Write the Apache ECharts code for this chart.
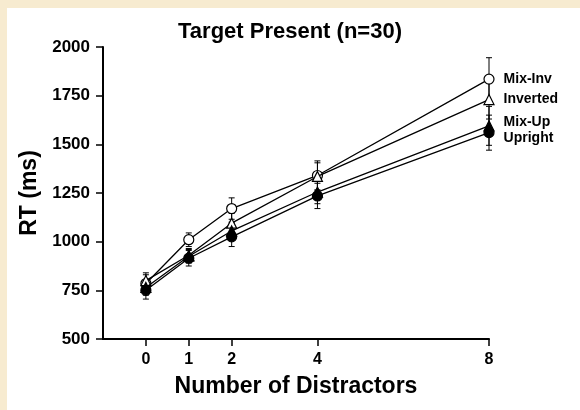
<!DOCTYPE html>
<html>
<head>
<meta charset="utf-8">
<script src="https://cdn.jsdelivr.net/npm/echarts@6/dist/echarts.min.js"></script>
<style>
html,body{margin:0;padding:0;background:#f7ebd0;}
#c{width:580px;height:410px;}
</style>
</head>
<body>
<div id="c"></div>
<script>
const xValues = [0, 1, 2, 4, 8];
const yTicks = [500, 750, 1000, 1250, 1500, 1750, 2000];
const seriesNames = ['Mix-Inv', 'Inverted', 'Mix-Up', 'Upright'];
const mixInv = [785, 1010, 1170, 1340, 1835];
const inverted = [800, 930, 1095, 1335, 1730];
const mixUp = [765, 925, 1055, 1255, 1595];
const upright = [750, 915, 1025, 1235, 1560];
const mixInvErr = [45, 35, 55, 75, 110];
const invertedErr = [40, 35, 50, 70, 100];
const mixUpErr = [40, 35, 45, 60, 100];
const uprightErr = [45, 40, 50, 65, 90];

const FONT = '"Liberation Sans", Arial, Helvetica, sans-serif';
const chart = echarts.init(document.getElementById('c'), null, {renderer: 'canvas'});

const defs = [
  {name: seriesNames[0], vals: mixInv, err: mixInvErr, symbol: 'circle', fill: '#ffffff', size: 10, off: [0, 0]},
  {name: seriesNames[1], vals: inverted, err: invertedErr, symbol: 'triangle', fill: '#ffffff', size: 10, off: [0, 0]},
  {name: seriesNames[2], vals: mixUp, err: mixUpErr, symbol: 'triangle', fill: '#000000', size: 10, off: [0, -4]},
  {name: seriesNames[3], vals: upright, err: uprightErr, symbol: 'circle', fill: '#000000', size: 10, off: [0, 5]}
];

const series = [];
defs.forEach(function (d) {
  series.push({
    type: 'custom',
    name: d.name + ' err',
    silent: true,
    z: 1,
    data: xValues.map(function (x, i) { return [x, d.vals[i] - d.err[i], d.vals[i] + d.err[i]]; }),
    renderItem: function (params, api) {
      const x = api.value(0);
      const p1 = api.coord([x, api.value(1)]);
      const p2 = api.coord([x, api.value(2)]);
      const w = 3;
      const st = {stroke: '#000', lineWidth: 1};
      return {type: 'group', children: [
        {type: 'line', shape: {x1: p1[0], y1: p1[1], x2: p2[0], y2: p2[1]}, style: st},
        {type: 'line', shape: {x1: p1[0] - w, y1: p1[1], x2: p1[0] + w, y2: p1[1]}, style: st},
        {type: 'line', shape: {x1: p2[0] - w, y1: p2[1], x2: p2[0] + w, y2: p2[1]}, style: st}
      ]};
    }
  });
});
defs.forEach(function (d, k) {
  const data = xValues.map(function (x, i) {
    const item = {value: [x, d.vals[i]]};
    if (i === xValues.length - 1) {
      item.label = {
        show: true, position: 'right', distance: 9, offset: d.off,
        formatter: d.name, color: '#000', fontFamily: FONT, fontWeight: 'bold', fontSize: 14
      };
    }
    return item;
  });
  series.push({
    type: 'line',
    name: d.name,
    data: data,
    z: 3 + k,
    symbol: d.symbol,
    symbolSize: d.size,
    showAllSymbol: true,
    lineStyle: {color: '#000', width: 1.3},
    itemStyle: {color: d.fill, borderColor: '#000', borderWidth: 1.2},
    label: {show: false},
    emphasis: {disabled: true},
    animation: false
  });
});

chart.setOption({
  animation: false,
  backgroundColor: '#f7ebd0',
  graphic: [{type: 'rect', z: -100, silent: true, shape: {x: 7, y: 8, width: 580, height: 410}, style: {fill: '#ffffff'}}],
  title: {
    text: 'Target Present (n=30)', left: 'center', top: 16,
    textStyle: {fontFamily: FONT, fontWeight: 'bold', fontSize: 22, color: '#000'}
  },
  grid: {left: 103, right: 91, top: 47, bottom: 71},
  xAxis: {
    type: 'value', min: -1, max: 8,
    name: 'Number of Distractors', nameLocation: 'middle', nameGap: 36,
    nameTextStyle: {fontFamily: FONT, fontWeight: 'bold', fontSize: 23, color: '#000'},
    axisLine: {show: true, onZero: false, lineStyle: {color: '#000', width: 2}},
    axisTick: {show: true, length: 7, lineStyle: {color: '#000', width: 1.5}, customValues: xValues},
    axisLabel: {customValues: xValues, color: '#000', fontFamily: FONT, fontWeight: 'bold', fontSize: 16, margin: 13},
    splitLine: {show: false}
  },
  yAxis: {
    type: 'value', min: 500, max: 2000, interval: 250,
    name: 'RT (ms)', nameLocation: 'middle', nameGap: 58,
    nameTextStyle: {fontFamily: FONT, fontWeight: 'bold', fontSize: 23, color: '#000'},
    axisLine: {show: true, onZero: false, lineStyle: {color: '#000', width: 2}},
    axisTick: {show: true, length: 7, lineStyle: {color: '#000', width: 1.5}, customValues: yTicks},
    axisLabel: {
      customValues: yTicks, color: '#000', fontFamily: FONT, fontWeight: 'bold', fontSize: 17, margin: 13,
      formatter: function (v) { return String(v); }
    },
    splitLine: {show: false}
  },
  series: series
});
</script>
</body>
</html>
